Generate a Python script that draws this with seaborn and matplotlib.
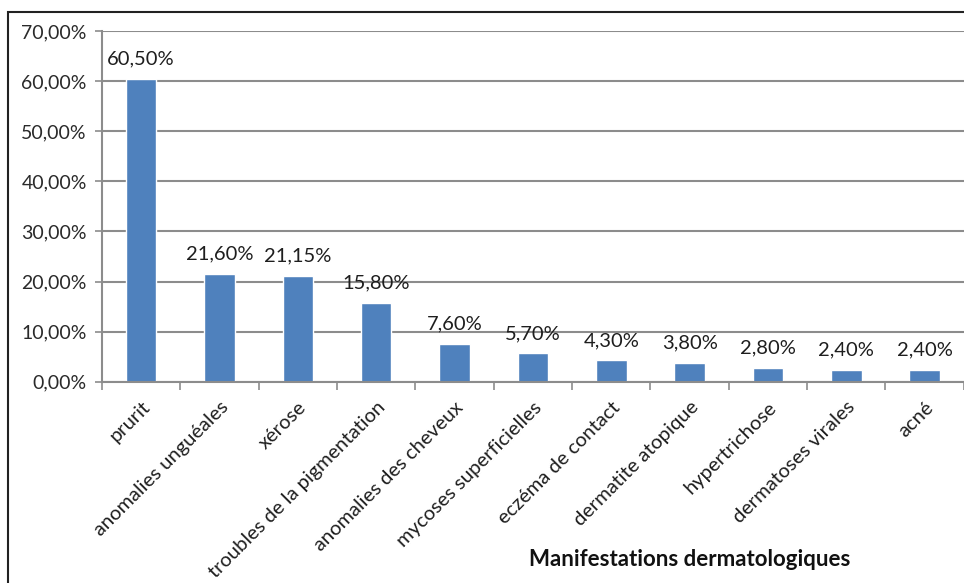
import matplotlib
matplotlib.use("Agg")
import matplotlib.pyplot as plt
import matplotlib.ticker as mticker
from matplotlib.patches import Rectangle
import seaborn as sns
import pandas as pd
import numpy as np

categories = ["prurit", "anomalies unguéales", "xérose", "troubles de la pigmentation",
              "anomalies des cheveux", "mycoses superficielles", "eczéma de contact",
              "dermatite atopique", "hypertrichose", "dermatoses virales", "acné"]
values = [60.50, 21.60, 21.15, 15.80, 7.60, 5.70, 4.30, 3.80, 2.80, 2.40, 2.40]
y_ticks = [0, 10, 20, 30, 40, 50, 60, 70]


def pct(v):
    return ("%.2f%%" % v).replace(".", ",")


sns.set_style("white")
plt.rcParams['font.family'] = ['Lato', 'DejaVu Sans']

data = pd.DataFrame({"cat": categories, "val": values})

fig = plt.figure(figsize=(9.64, 5.83), dpi=100)
ax = fig.add_axes([0.1058, 0.345, 0.894, 0.602])
sns.barplot(data=data, x="cat", y="val", color="#4F81BD", saturation=1, width=0.39, ax=ax)

ax.set_ylim(0, 70)
ax.set_xlim(-0.5, len(categories) - 0.5)
ax.set_yticks(y_ticks)
ax.yaxis.set_major_formatter(mticker.FuncFormatter(lambda v, p: pct(v)))
ax.tick_params(axis="y", labelsize=14, length=5, width=1.2, color="#8c8c8c",
               direction="out", left=True, labelcolor="#2a2a2a", pad=6)
ax.yaxis.grid(True, color="#8c8c8c", linewidth=1.5)
ax.set_axisbelow(True)

# category tick marks between bars
ax.set_xticks(np.arange(len(categories)))
ax.set_xticklabels(categories, rotation=45, ha="right", rotation_mode="anchor", fontsize=14.5)
ax.tick_params(axis="x", which="major", length=0, pad=12, labelcolor="#1e1e1e")
ax.set_xticks(np.arange(len(categories) + 1) - 0.5, minor=True)
ax.tick_params(axis="x", which="minor", length=6, width=1.2, color="#8c8c8c", bottom=True)

for s in ["top", "right"]:
    ax.spines[s].set_visible(False)
for s in ["left", "bottom"]:
    ax.spines[s].set_color("#8c8c8c")
    ax.spines[s].set_linewidth(1.5)

ax.bar_label(ax.containers[0], labels=[pct(v) for v in values], padding=8,
             fontsize=14.5, color="#1e1e1e")

ax.set_ylabel("")
ax.set_xlabel("Manifestations dermatologiques", fontsize=16, fontweight="bold", color="#111111")
ax.xaxis.set_label_coords(0.682, -0.475)

# outer frame
fig.patches.append(Rectangle((8 / 964, -0.1), 1.2, 1 - 12 / 583 + 0.1, transform=fig.transFigure,
                             fill=False, edgecolor="#222222", linewidth=1.5))

fig.savefig("out.png", dpi=100)
